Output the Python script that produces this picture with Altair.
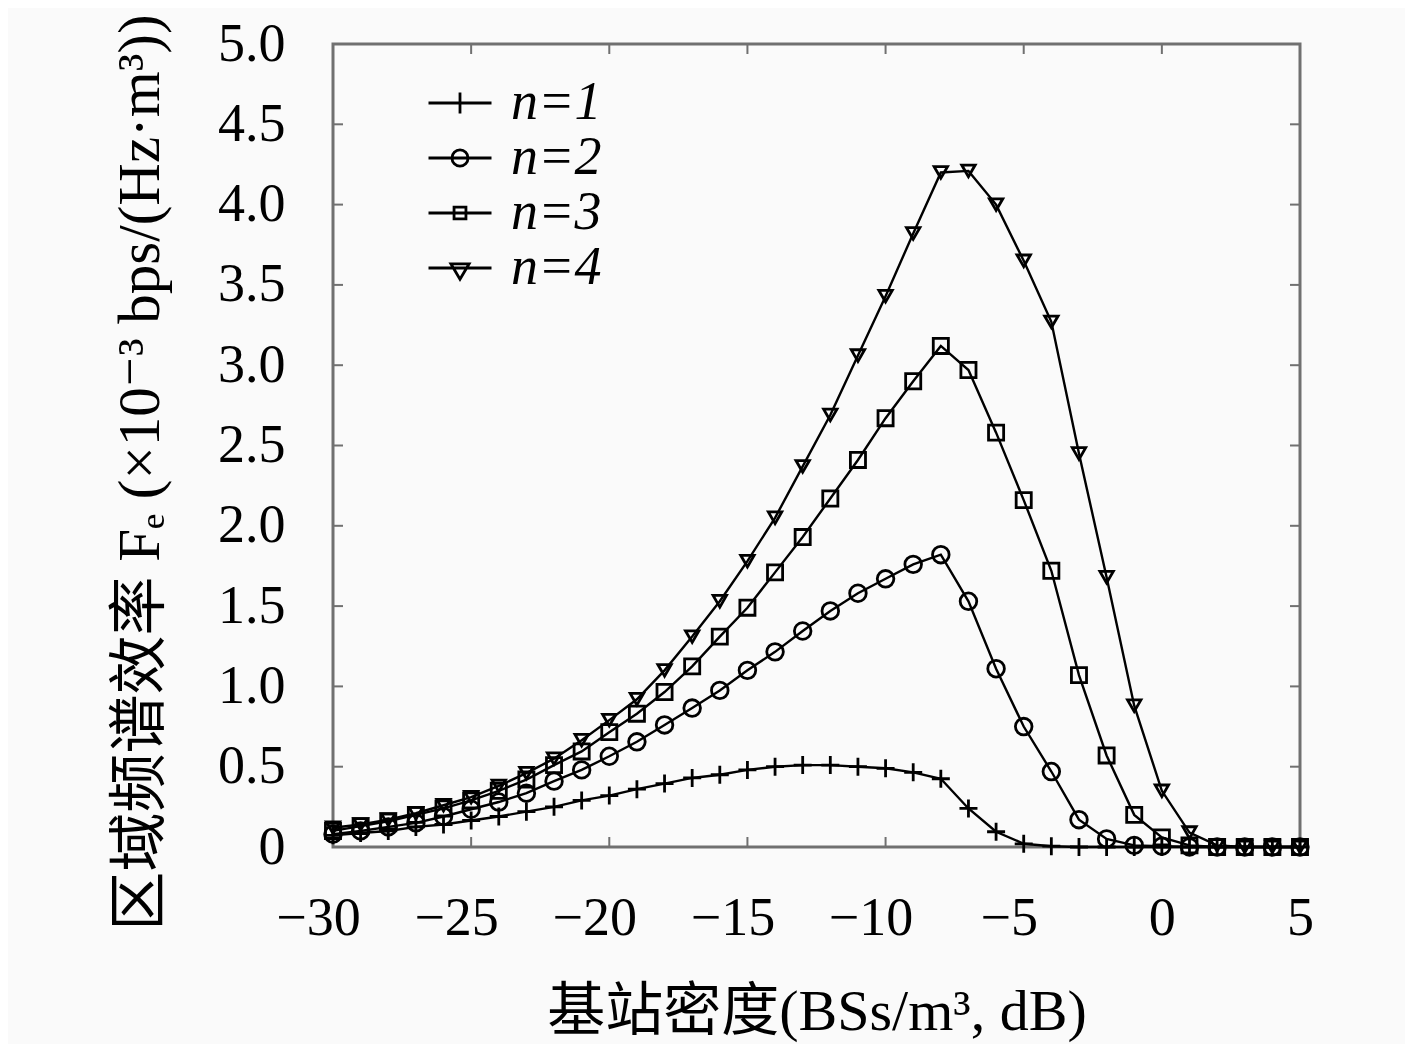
import altair as alt
import pandas as pd

# x values: base-station density (dB)
x_vals = list(range(-30, 6))

n1 = [0.073, 0.087, 0.10, 0.125, 0.14, 0.165, 0.19, 0.22, 0.25, 0.29, 0.32, 0.36,
      0.395, 0.43, 0.45, 0.48, 0.50, 0.51, 0.51, 0.50, 0.49, 0.465, 0.425, 0.24,
      0.095, 0.02, 0.005, 0.0, 0.0, 0.0, 0.0, 0.0, 0.0, 0.0, 0.0, 0.0]
n2 = [0.08, 0.10, 0.125, 0.15, 0.19, 0.235, 0.28, 0.335, 0.41, 0.48, 0.565, 0.655,
      0.76, 0.865, 0.975, 1.10, 1.215, 1.345, 1.47, 1.58, 1.67, 1.76, 1.82, 1.53,
      1.11, 0.75, 0.47, 0.17, 0.05, 0.01, 0.005, 0.0, 0.0, 0.0, 0.0, 0.0]
n3 = [0.10, 0.13, 0.16, 0.20, 0.24, 0.29, 0.35, 0.42, 0.51, 0.595, 0.715, 0.83,
      0.965, 1.125, 1.31, 1.49, 1.71, 1.93, 2.17, 2.41, 2.67, 2.90, 3.12, 2.97,
      2.58, 2.16, 1.72, 1.07, 0.57, 0.20, 0.06, 0.01, 0.0, 0.0, 0.0, 0.0]
n4 = [0.12, 0.14, 0.17, 0.21, 0.26, 0.31, 0.38, 0.46, 0.55, 0.665, 0.79, 0.92,
      1.10, 1.31, 1.53, 1.78, 2.05, 2.37, 2.69, 3.06, 3.43, 3.82, 4.20, 4.21,
      4.00, 3.65, 3.27, 2.45, 1.68, 0.88, 0.35, 0.09, 0.01, 0.0, 0.0, 0.0]

series_names = ["n=1", "n=2", "n=3", "n=4"]
x_ticks = [-30, -25, -20, -15, -10, -5, 0, 5]
y_ticks = [0, 0.5, 1.0, 1.5, 2.0, 2.5, 3.0, 3.5, 4.0, 4.5, 5.0]

x_title = "基站密度(BSs/m³, dB)"
y_title = "区域频谱效率 Fₑ (×10⁻³ bps/(Hz·m³))"

rows = []
for name, vals in zip(series_names, [n1, n2, n3, n4]):
    for xv, yv in zip(x_vals, vals):
        rows.append({"x": xv, "y": yv, "n": name})
df = pd.DataFrame(rows)
xt = pd.DataFrame({"t": x_ticks})
yt = pd.DataFrame({"t": y_ticks})

W, H = 967, 803
FONT = "Liberation Serif, DejaVu Serif, Noto Sans CJK SC"
FRAME = "#707070"

marker_shapes = ["M-1,0L1,0M0,-1L0,1", "circle", "square", "triangle-down"]
marker_sizes = [324, 180, 121, 225]
legend_shapes = [
    "M-4.5,0L4.5,0M0,-1.5L0,1.5",
    "M-4.5,0L4.5,0M-1.15,0A1.15,1.15 0 1,0 1.15,0A1.15,1.15 0 1,0 -1.15,0",
    "M-4.5,0L4.5,0M-0.85,-0.85L0.85,-0.85L0.85,0.85L-0.85,0.85Z",
    "M-4.5,0L4.5,0M-1.3,-0.6L1.3,-0.6L0,1.6Z",
]

xscale = alt.Scale(domain=[-30, 5], nice=False, zero=False)
yscale = alt.Scale(domain=[0, 5], nice=False)

xaxis = alt.Axis(
    values=x_ticks, format="d", title=x_title, grid=False, ticks=False, tickSize=0,
    domain=False, labelFont=FONT, labelFontSize=54, labelColor="black",
    labelPadding=44, labelFlush=False, labelOverlap=False,
    labelOffset={"condition": {"test": "datum.value < 0", "value": -15}, "value": 0},
    titleFont=FONT, titleFontSize=58, titleFontWeight="normal", titleColor="black",
    titleY=165, titleBaseline="middle",
)
yaxis = alt.Axis(
    values=y_ticks, title=y_title, grid=False, ticks=False, tickSize=0, domain=False,
    labelExpr="datum.value == 0 ? '0' : format(datum.value, '.1f')",
    labelFont=FONT, labelFontSize=54, labelColor="black", labelPadding=48,
    labelOverlap=False,
    titleFont=FONT, titleFontSize=59, titleFontWeight="normal", titleColor="black",
    titleX=-193, titleY=428, titleAngle=270, titleBaseline="middle", titleAlign="center",
)

base = alt.Chart(df)

lines = base.mark_line(color="black", strokeWidth=2.4).encode(
    x=alt.X("x:Q", scale=xscale, axis=xaxis),
    y=alt.Y("y:Q", scale=yscale, axis=yaxis),
    detail="n:N",
)

points = base.mark_point(filled=False, color="black", strokeWidth=2.8, opacity=1, clip=False).encode(
    x=alt.X("x:Q", scale=xscale),
    y=alt.Y("y:Q", scale=yscale),
    shape=alt.Shape("n:N", scale=alt.Scale(domain=series_names, range=marker_shapes), legend=None),
    size=alt.Size("n:N", scale=alt.Scale(domain=series_names, range=marker_sizes), legend=None),
)

legend_layer = base.mark_point(filled=False, color="black", strokeWidth=2.8, size=196, opacity=1).encode(
    shape=alt.Shape(
        "n:N",
        scale=alt.Scale(domain=series_names, range=legend_shapes),
        legend=alt.Legend(
            orient="none", legendX=100, legendY=32, title=None, padding=0,
            labelFont=FONT, labelFontSize=54, labelFontStyle="italic", labelColor="black",
            labelOffset=24, rowPadding=1, symbolSize=196, symbolStrokeWidth=2.8,
            symbolStrokeColor="black", symbolFillColor="transparent", labelLimit=0,
            symbolOpacity=1,
        ),
    ),
).transform_filter("false")

tick_len = 10
bottom_ticks = alt.Chart(xt).mark_rule(color=FRAME, strokeWidth=2).encode(
    x=alt.X("t:Q", scale=xscale), y=alt.value(H), y2=alt.value(H - tick_len))
top_ticks = alt.Chart(xt).mark_rule(color=FRAME, strokeWidth=2).encode(
    x=alt.X("t:Q", scale=xscale), y=alt.value(0), y2=alt.value(tick_len))
left_ticks = alt.Chart(yt).mark_rule(color=FRAME, strokeWidth=2).encode(
    y=alt.Y("t:Q", scale=yscale), x=alt.value(0), x2=alt.value(tick_len))
right_ticks = alt.Chart(yt).mark_rule(color=FRAME, strokeWidth=2).encode(
    y=alt.Y("t:Q", scale=yscale), x=alt.value(W), x2=alt.value(W - tick_len))

chart = alt.layer(
    bottom_ticks, top_ticks, left_ticks, right_ticks, lines, points, legend_layer
).resolve_scale(shape="independent", size="independent").resolve_legend(
    shape="independent"
).properties(
    width=W, height=H,
    autosize=alt.AutoSizeParams(type="none"),
    padding={"left": 325, "top": 36, "right": 105, "bottom": 197},
    background="#fafafa",
).configure_view(
    stroke=FRAME, strokeWidth=3
)

chart.save("out.html", embed_options={"renderer": "svg", "actions": False})
